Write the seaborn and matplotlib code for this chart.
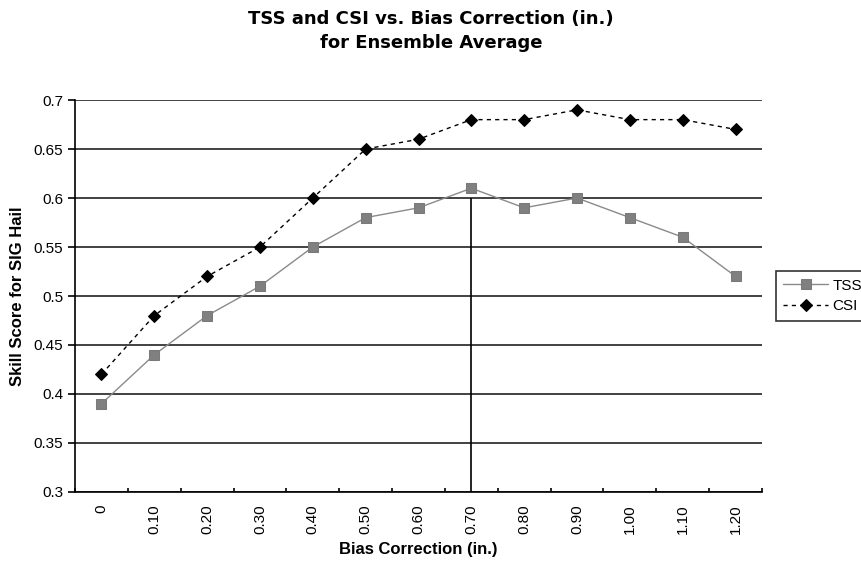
import matplotlib
matplotlib.use("Agg")
import matplotlib.pyplot as plt
import seaborn as sns
import numpy as np
import pandas as pd
from matplotlib.ticker import FixedLocator, FixedFormatter

categories = ["0", "0.10", "0.20", "0.30", "0.40", "0.50", "0.60", "0.70",
              "0.80", "0.90", "1.00", "1.10", "1.20"]
tss = [0.39, 0.44, 0.48, 0.51, 0.55, 0.58, 0.59, 0.61, 0.59, 0.60, 0.58, 0.56, 0.52]
csi = [0.42, 0.48, 0.52, 0.55, 0.60, 0.65, 0.66, 0.68, 0.68, 0.69, 0.68, 0.68, 0.67]
y_ticks = [0.3, 0.35, 0.4, 0.45, 0.5, 0.55, 0.6, 0.65, 0.7]
y_labels = ["0.3", "0.35", "0.4", "0.45", "0.5", "0.55", "0.6", "0.65", "0.7"]
marker_cat = "0.70"
marker_top = 0.6

sns.set_style("white")
plt.rcParams['font.family'] = ['Liberation Sans', 'DejaVu Sans']
plt.rcParams['text.color'] = 'black'
plt.rcParams['axes.labelcolor'] = 'black'
plt.rcParams['xtick.color'] = 'black'
plt.rcParams['ytick.color'] = 'black'

pos = np.arange(len(categories))
df = pd.DataFrame({"pos": pos, "TSS": tss, "CSI": csi})

fig = plt.figure(figsize=(8.62, 5.62), dpi=100)
ax = fig.add_axes([0.087, 0.1246, 0.797, 0.6974])

# gridlines
for v in y_ticks:
    ax.axhline(v, color="#333333", lw=1.3, zorder=1)

sns.lineplot(data=df, x="pos", y="TSS", ax=ax, color="#8a8a8a", lw=1.0,
             marker="s", markersize=7, markeredgecolor="#7a7a7a",
             markerfacecolor="#808080", label="TSS", zorder=3)
sns.lineplot(data=df, x="pos", y="CSI", ax=ax, color="black", lw=1.0,
             linestyle=(0, (3, 3)), marker="D", markersize=6,
             markeredgecolor="black", markerfacecolor="black", label="CSI", zorder=4)

ax.vlines(categories.index(marker_cat), 0.3, marker_top, color="black", lw=1.2, zorder=2)

ax.set_xlim(-0.5, len(categories) - 0.5)
ax.set_ylim(0.3, 0.7)

ax.xaxis.set_major_locator(FixedLocator(np.arange(len(categories) + 1) - 0.5))
ax.xaxis.set_major_formatter(FixedFormatter([""] * (len(categories) + 1)))
ax.xaxis.set_minor_locator(FixedLocator(pos))
ax.xaxis.set_minor_formatter(FixedFormatter(categories))
ax.tick_params(axis="x", which="major", direction="in", length=3, width=1.2, color="black", bottom=True)
ax.tick_params(axis="x", which="minor", length=0, labelrotation=90, labelsize=11, pad=9, bottom=True)

ax.set_yticks(y_ticks)
ax.set_yticklabels(y_labels)
ax.tick_params(axis="y", direction="out", length=5, width=1.2, color="black", labelsize=11, left=True)

for s in ["top", "right"]:
    ax.spines[s].set_visible(False)
for s in ["left", "bottom"]:
    ax.spines[s].set_color("black")
    ax.spines[s].set_linewidth(1.2)

ax.set_xlabel("Bias Correction (in.)", fontsize=12, fontweight="bold", labelpad=6)
ax.set_ylabel("Skill Score for SIG Hail", fontsize=12, fontweight="bold", labelpad=6)

fig.suptitle("TSS and CSI vs. Bias Correction (in.)\nfor Ensemble Average",
             fontsize=13, fontweight="bold", y=0.983, linespacing=1.45,
             family=["DejaVu Sans"])

leg = ax.legend(loc="center left", bbox_to_anchor=(1.02, 0.5), frameon=True,
                fancybox=False, edgecolor="black", fontsize=11, handlelength=2.9,
                borderpad=0.5, handletextpad=0.3, labelspacing=0.45, borderaxespad=0)
leg.get_frame().set_linewidth(1.2)

fig.savefig("out.png", dpi=100)
